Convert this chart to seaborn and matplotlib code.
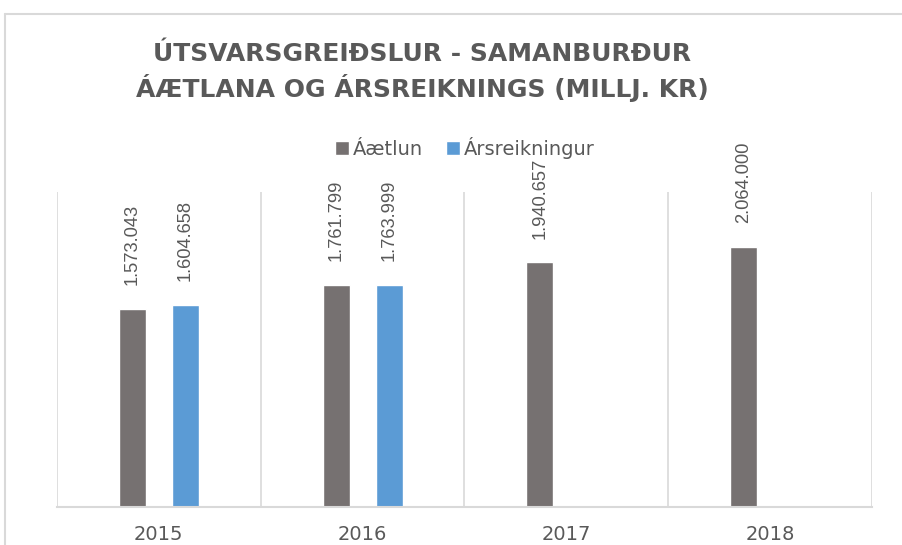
import numpy as np
import pandas as pd
import seaborn as sns
import matplotlib
import matplotlib.pyplot as plt
from matplotlib.lines import Line2D

# data
years = ['2015', '2016', '2017', '2018']
aaetlun = [1573043, 1761799, 1940657, 2064000]
arsreikningur = [1604658, 1763999, np.nan, np.nan]
series_names = ['Áætlun', 'Ársreikningur']
title = 'ÚTSVARSGREIÐSLUR - SAMANBURÐUR\nÁÆTLANA OG ÁRSREIKNINGS (MILLJ. KR)'

colors = ['#767171', '#5B9BD5']
grey_text = '#595959'
line_grey = '#D9D9D9'

sns.set_style('white')
plt.rcParams['font.family'] = ['DejaVu Sans']

df = pd.DataFrame({
    'year': years * 2,
    'value': aaetlun + arsreikningur,
    'series': [series_names[0]] * 4 + [series_names[1]] * 4,
})

fig = plt.figure(figsize=(9.03, 5.45), dpi=100)
W, H = 903, 545
ax = fig.add_axes([57 / W, 1 - 507 / H, 815 / W, 315 / H])

sns.barplot(data=df, x='year', y='value', hue='series', order=years,
            hue_order=series_names, palette=colors, width=0.52, gap=0.49,
            errorbar=None, saturation=1, ax=ax)

ax.set_xlim(-0.5, 3.5)
ax.set_ylim(0, 2500000)
ax.set_xlabel('')
ax.set_ylabel('')
ax.set_yticks([])

# category separators
ax.set_xticks(np.arange(-0.5, 4, 1), minor=True)
ax.grid(which='minor', axis='x', color=line_grey, linewidth=1.2)
ax.tick_params(axis='x', which='both', length=0, pad=13)
for lab in ax.get_xticklabels():
    lab.set_fontsize(14)
    lab.set_color(grey_text)

for side in ['left', 'right', 'top']:
    ax.spines[side].set_visible(False)
ax.spines['bottom'].set_color(line_grey)
ax.spines['bottom'].set_linewidth(1.5)

# value labels
for cont in ax.containers:
    ax.bar_label(cont, fmt=lambda v: f'{v:,.0f}'.replace(',', '.'),
                 rotation=90, padding=17, fontsize=13.2, color=grey_text,
                 family='Liberation Sans')

# legend
handles, labels = ax.get_legend_handles_labels()
ax.legend(handles, labels, loc='center', bbox_to_anchor=(465 / W, 1 - 148 / H),
          bbox_transform=fig.transFigure, ncol=2, frameon=False,
          handlelength=0.7, handleheight=0.7, handletextpad=0.2,
          columnspacing=1.2, prop={'size': 14}, labelcolor=grey_text)

fig.text(422 / W, 1 - 72 / H, title, ha='center', va='center',
         fontsize=18, fontweight='bold', color=grey_text, linespacing=1.35)

# chart border (cut off on the right and bottom)
fig.add_artist(Line2D([5 / W, 1], [1 - 14 / H, 1 - 14 / H],
                      transform=fig.transFigure, color=line_grey, linewidth=1.5))
fig.add_artist(Line2D([5 / W, 5 / W], [0, 1 - 14 / H],
                      transform=fig.transFigure, color=line_grey, linewidth=1.5))

fig.savefig('out.png', dpi=100)
